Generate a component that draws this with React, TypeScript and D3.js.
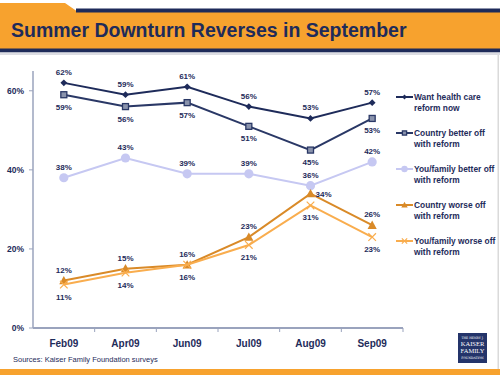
import React from "react";
import * as d3 from "d3";

const categories = ["Feb09", "Apr09", "Jun09", "Jul09", "Aug09", "Sep09"];
const wantNow = [62, 59, 61, 56, 53, 57];
const countryBetter = [59, 56, 57, 51, 45, 53];
const familyBetter = [38, 43, 39, 39, 36, 42];
const countryWorse = [12, 15, 16, 23, 34, 26];
const familyWorse = [11, 14, 16, 21, 31, 23];
const yTicks = [0, 20, 40, 60];

const NAVY = "#1e2b5a";
const ORANGE = "#f7a22e";

type Pos = "above" | "below" | "right";
const seriesList = [
  { name: ["Want health care", "reform now"], values: wantNow, color: "#1e2b5a", marker: "diamond",
    pos: ["above", "above", "above", "above", "above", "above"] as Pos[] },
  { name: ["Country better off", "with reform"], values: countryBetter, color: "#2a3866", marker: "square",
    pos: ["below", "below", "below", "below", "below", "below"] as Pos[] },
  { name: ["You/family better off", "with reform"], values: familyBetter, color: "#c6c8f2", marker: "circle",
    pos: ["above", "above", "above", "above", "above", "above"] as Pos[] },
  { name: ["Country worse off", "with reform"], values: countryWorse, color: "#d98a28", marker: "triangle",
    pos: ["above", "above", "above", "above", "right", "above"] as Pos[] },
  { name: ["You/family worse off", "with reform"], values: familyWorse, color: "#f9ad4e", marker: "x",
    pos: ["below", "below", "below", "below", "below", "below"] as Pos[] },
];

function Marker({ type, x, y, color, k = 1 }: { type: string; x: number; y: number; color: string; k?: number }) {
  if (type === "diamond") {
    const s = 3.4 * k;
    return <path d={`M${x},${y - s}L${x + s},${y}L${x},${y + s}L${x - s},${y}Z`} fill={color} />;
  }
  if (type === "square") {
    const s = 3 * k;
    return <rect x={x - s} y={y - s} width={2 * s} height={2 * s} fill="#8a93ac" stroke={color} strokeWidth={1.3} />;
  }
  if (type === "circle") {
    return <circle cx={x} cy={y} r={4.6 * k} fill={color} />;
  }
  if (type === "triangle") {
    const s = 4.6 * k;
    return <path d={`M${x},${y - s}L${x + s},${y + s * 0.8}L${x - s},${y + s * 0.8}Z`} fill={color} />;
  }
  const s = 3.8 * k;
  return (
    <path d={`M${x - s},${y - s}L${x + s},${y + s}M${x - s},${y + s}L${x + s},${y - s}`} stroke={color} strokeWidth={1.2} />
  );
}

export default function App() {
  const x = d3.scaleBand<string>().domain(categories).range([33, 403]);
  const y = d3.scaleLinear().domain([0, 65]).range([328, 71]);
  const cx = (c: string) => (x(c) as number) + x.bandwidth() / 2;
  const line = d3.line<number>().x((_, i) => cx(categories[i])).y((v) => y(v));
  const font = "Arial, 'Liberation Sans', sans-serif";
  const bounds = categories.map((c) => (x(c) as number) + x.bandwidth());

  return (
    <svg width={500} height={375} style={{ position: "absolute", left: 0, top: 0 }} fontFamily={font}>
      <rect width={500} height={375} fill="#ffffff" />
      {/* header */}
      <path d="M0,3L65,3L78,12L500,12L500,49L0,49Z" fill={ORANGE} />
      <rect x={76} y={8.5} width={424} height={4} fill={NAVY} />
      <rect x={0} y={48.5} width={500} height={4} fill={NAVY} />
      <rect x={0} y={52.5} width={500} height={2.5} fill="#dcdde3" />
      <text x={11} y={37} fontSize={19.5} fontWeight="bold" fill={NAVY}>
        Summer Downturn Reverses in September
      </text>
      <rect x={497.5} y={55} width={1.5} height={314} fill="#dadada" />

      {/* axes */}
      <line x1={33} x2={33} y1={71} y2={328} stroke="#9aa3bd" strokeWidth={1.5} />
      <line x1={33} x2={403} y1={328} y2={328} stroke="#9aa3bd" strokeWidth={2} />
      {yTicks.map((t) => (
        <g key={t}>
          <line x1={29} x2={33} y1={y(t)} y2={y(t)} stroke="#9aa3bd" strokeWidth={1} />
          <text x={24} y={y(t) + 3} textAnchor="end" fontSize={8.5} fontWeight="bold" fill={NAVY}>
            {t}%
          </text>
        </g>
      ))}
      {bounds.map((b, i) => (
        <line key={i} x1={b} x2={b} y1={328} y2={332} stroke="#9aa3bd" strokeWidth={1} />
      ))}
      {categories.map((c) => (
        <text key={c} x={cx(c)} y={347} textAnchor="middle" fontSize={10} fontWeight="bold" fill={NAVY}>
          {c}
        </text>
      ))}

      {/* series */}
      {seriesList.map((s, si) => (
        <g key={si}>
          <path d={line(s.values) || ""} fill="none" stroke={s.color} strokeWidth={2} />
          {s.values.map((v, i) => (
            <Marker key={i} type={s.marker} x={cx(categories[i])} y={y(v)} color={s.color} />
          ))}
          {s.values.map((v, i) => {
            const px = cx(categories[i]);
            const py = y(v);
            const p = s.pos[i];
            const tx = p === "right" ? px + 13 : px;
            const ty = p === "above" ? py - 8 : p === "below" ? py + 15 : py + 3;
            return (
              <text key={"l" + i} x={tx} y={ty} textAnchor="middle" fontSize={8} fontWeight="bold" fill={NAVY}>
                {v}%
              </text>
            );
          })}
        </g>
      ))}

      {/* legend */}
      {seriesList.map((s, si) => {
        const ly = 97 + si * 36;
        return (
          <g key={"lg" + si}>
            <line x1={396} x2={413} y1={ly} y2={ly} stroke={s.color} strokeWidth={2} />
            <Marker type={s.marker} x={404.5} y={ly} color={s.color} k={0.7} />
            <text x={414} y={ly + 3} fontSize={8.4} fontWeight="bold" fill={NAVY}>
              <tspan x={414}>{s.name[0]}</tspan>
              <tspan x={414} dy={10.5}>{s.name[1]}</tspan>
            </text>
          </g>
        );
      })}

      <text x={13} y={362} fontSize={7.5} fill={NAVY}>
        Sources: Kaiser Family Foundation surveys
      </text>

      {/* logo */}
      <rect x={458} y={333} width={29} height={30} fill="#24346a" />
      <text x={472.5} y={339} textAnchor="middle" fontSize={3} fill="#fff" fontFamily="'DejaVu Serif', serif">THE HENRY J.</text>
      <text x={472.5} y={346} textAnchor="middle" fontSize={6.5} fill="#fff" fontFamily="'Liberation Serif', serif">KAISER</text>
      <text x={472.5} y={353} textAnchor="middle" fontSize={6.5} fill="#fff" fontFamily="'Liberation Serif', serif">FAMILY</text>
      <text x={472.5} y={359} textAnchor="middle" fontSize={3} fill="#fff" fontFamily="'DejaVu Serif', serif">FOUNDATION</text>

      <rect x={0} y={369} width={500} height={6} fill={ORANGE} />
    </svg>
  );
}
